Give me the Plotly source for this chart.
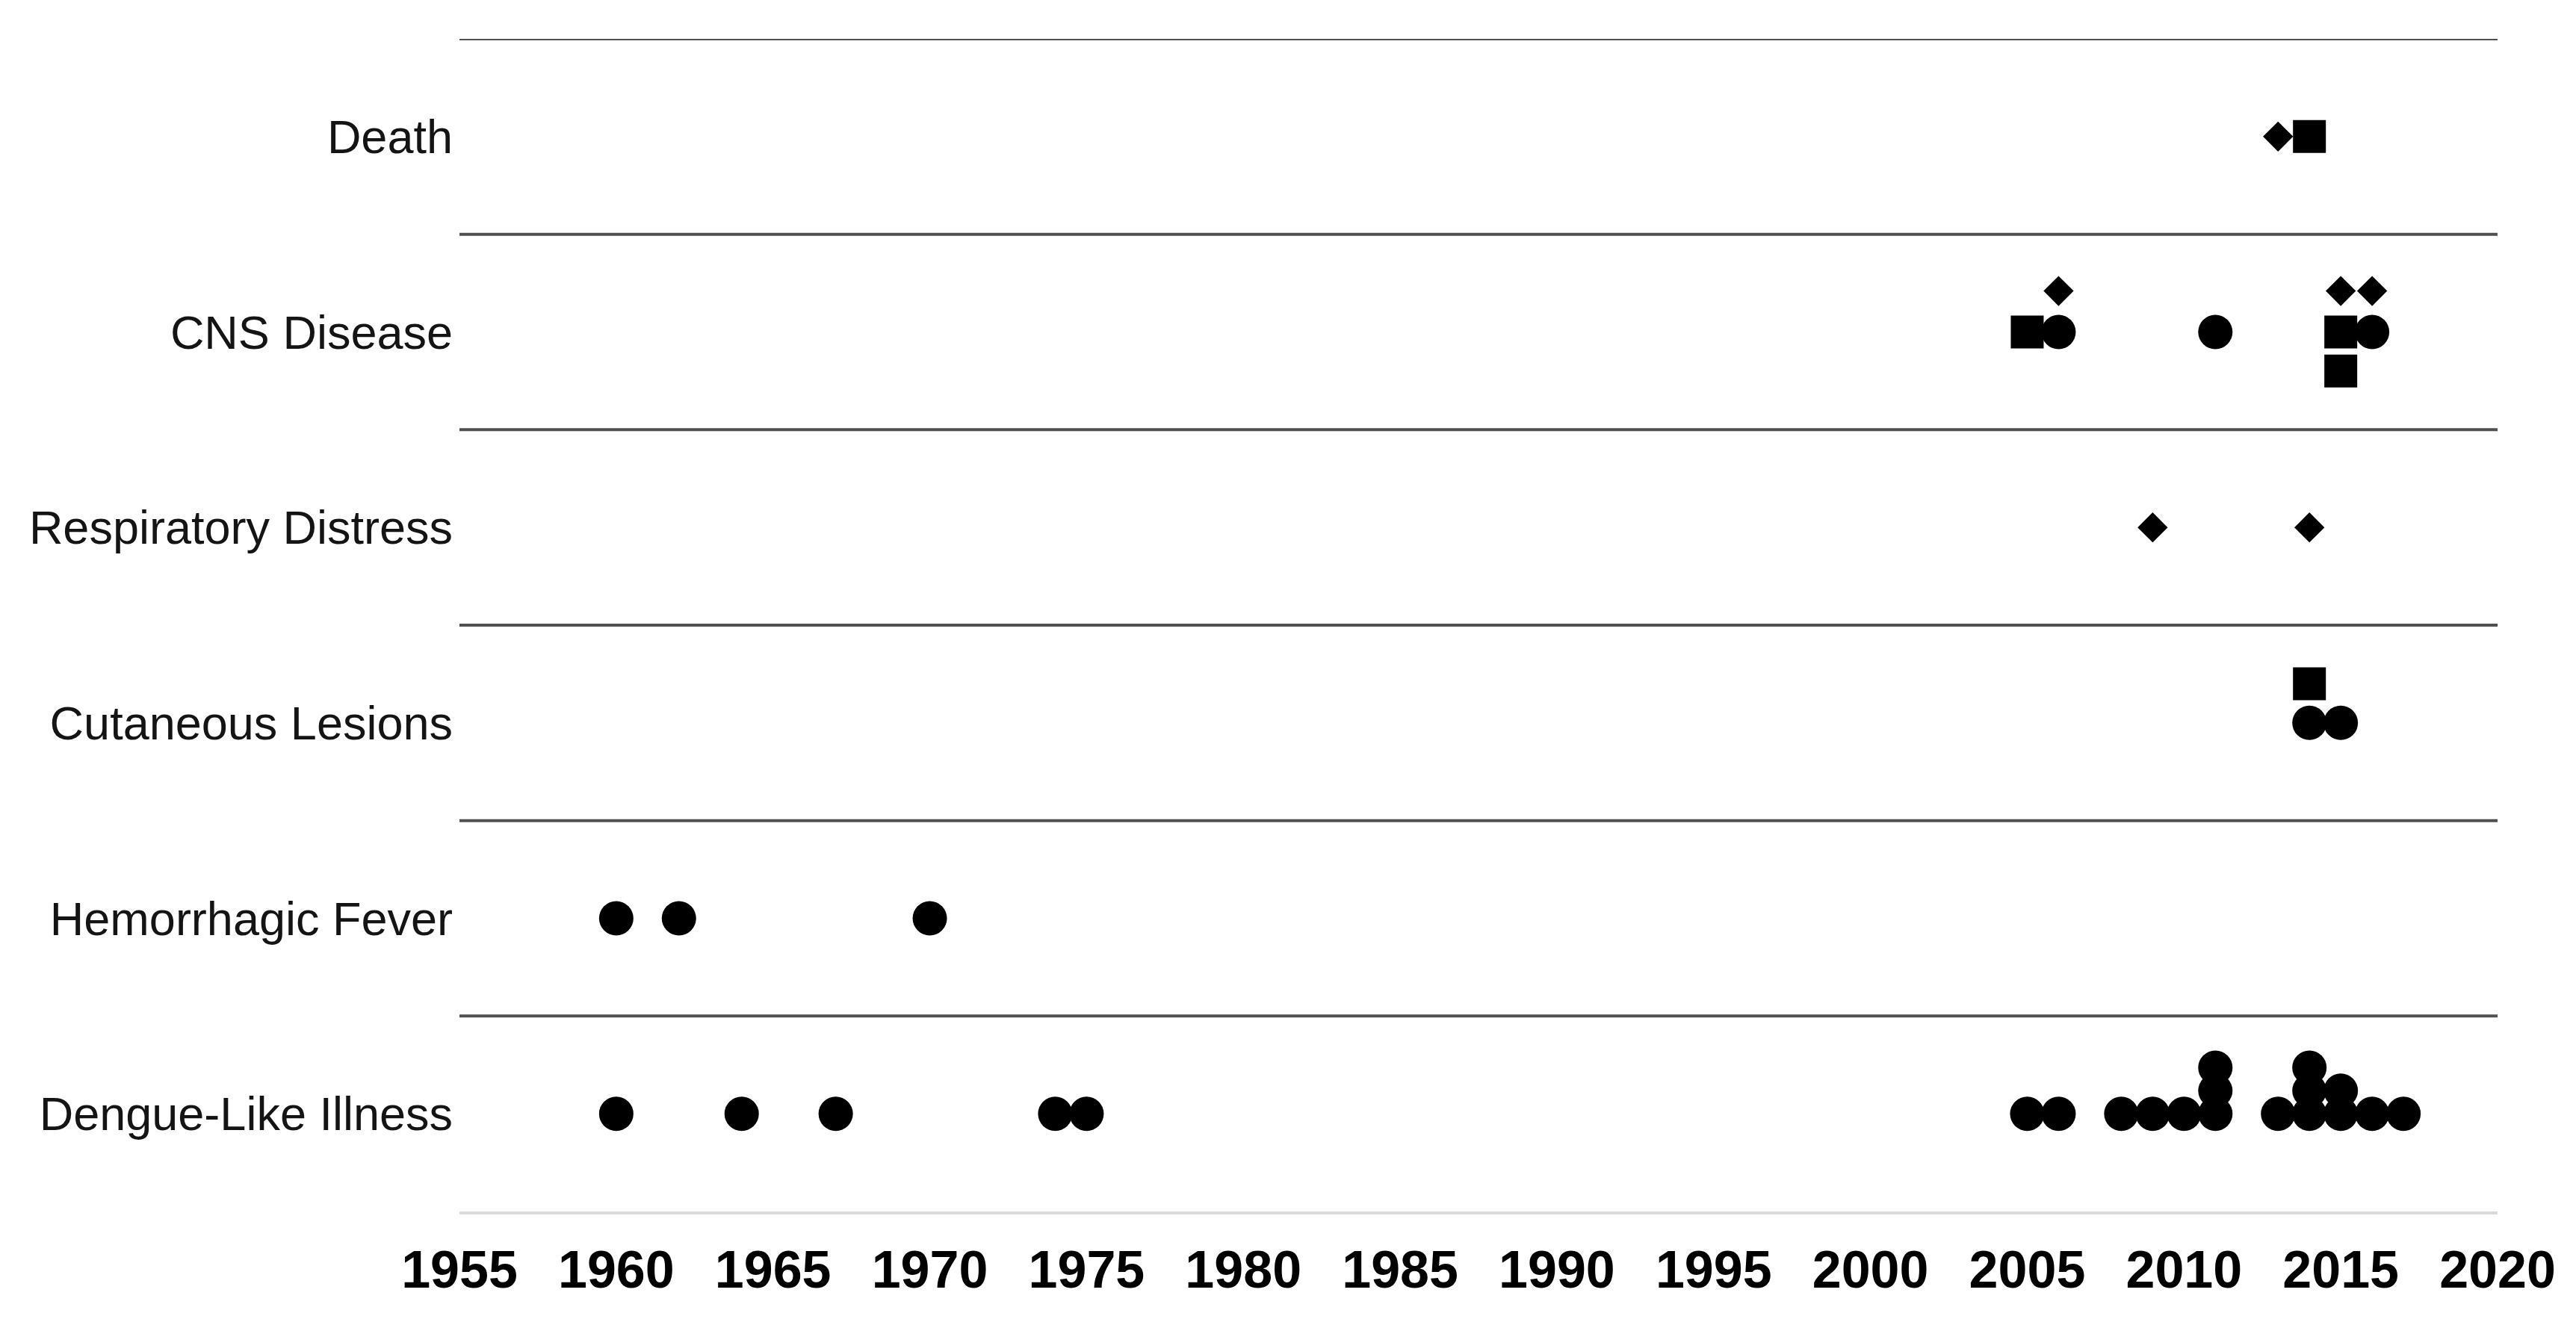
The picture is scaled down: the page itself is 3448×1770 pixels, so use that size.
import plotly.graph_objects as go

# Row categories (bottom to top)
categories = ["Dengue-Like Illness", "Hemorrhagic Fever", "Cutaneous Lesions",
              "Respiratory Distress", "CNS Disease", "Death"]

# Year tick labels
year_ticks = [1955, 1960, 1965, 1970, 1975, 1980, 1985, 1990, 1995,
              2000, 2005, 2010, 2015, 2020]

# Circle markers: year, category, stack offset within the row
circle_years = [1960, 1964, 1967, 1974, 1975, 2005, 2006, 2008, 2009, 2010,
                2011, 2011, 2011, 2013, 2014, 2014, 2014, 2015, 2015, 2016, 2017,
                1960, 1962, 1970,
                2014, 2015,
                2006, 2011, 2016]
circle_cats = (["Dengue-Like Illness"] * 21 + ["Hemorrhagic Fever"] * 3 +
               ["Cutaneous Lesions"] * 2 + ["CNS Disease"] * 3)
circle_stack = [0, 0, 0, 0, 0, 0, 0, 0, 0, 0,
                0, 0.118, 0.236, 0, 0, 0.118, 0.236, 0, 0.118, 0, 0,
                0, 0, 0,
                0, 0,
                0, 0, 0]

# Square markers
square_years = [2014, 2005, 2015, 2015, 2014]
square_cats = ["Death", "CNS Disease", "CNS Disease", "CNS Disease", "Cutaneous Lesions"]
square_stack = [0, 0, 0, -0.2, 0.2]

# Diamond markers
diamond_years = [2013, 2006, 2015, 2016, 2009, 2014]
diamond_cats = ["Death", "CNS Disease", "CNS Disease", "CNS Disease",
                "Respiratory Distress", "Respiratory Distress"]
diamond_stack = [0, 0.21, 0.21, 0.21, 0, 0]


def ypos(cats, stack):
    return [categories.index(c) + s for c, s in zip(cats, stack)]


fig = go.Figure()
fig.add_trace(go.Scatter(x=circle_years, y=ypos(circle_cats, circle_stack),
                         mode="markers", name="circle",
                         marker=dict(symbol="circle", size=46, color="black",
                                     line=dict(width=0))))
fig.add_trace(go.Scatter(x=square_years, y=ypos(square_cats, square_stack),
                         mode="markers", name="square",
                         marker=dict(symbol="square", size=44, color="black",
                                     line=dict(width=0))))
fig.add_trace(go.Scatter(x=diamond_years, y=ypos(diamond_cats, diamond_stack),
                         mode="markers", name="diamond",
                         marker=dict(symbol="diamond", size=31, color="black",
                                     line=dict(width=0))))

# Row separator lines
shapes = []
n = len(categories)
for k in range(1, n + 1):
    shapes.append(dict(type="line", xref="paper", x0=0, x1=1, yref="y",
                       y0=k - 0.5, y1=k - 0.5,
                       line=dict(color="#505050", width=4), layer="below"))

fig.update_layout(
    width=3432, height=1754,
    margin=dict(l=607, r=97, t=44, b=140),
    paper_bgcolor="white", plot_bgcolor="white",
    showlegend=False,
    shapes=shapes,
    xaxis=dict(range=[1955, 2020], tickvals=year_ticks,
               ticktext=[str(t) for t in year_ticks],
               showgrid=False, zeroline=False,
               showline=True, linecolor="#d9d9d9", linewidth=4,
               ticks="", ticklabelstandoff=14,
               tickfont=dict(family="Liberation Sans, Arial", size=70,
                             color="black", weight="bold")),
    yaxis=dict(range=[-0.5, n - 0.5], tickvals=list(range(n)),
               ticktext=categories, showgrid=False, zeroline=False,
               showline=False, ticks="", ticklabelstandoff=8,
               tickfont=dict(family="Liberation Sans, Arial", size=63,
                             color="#141414")),
)

fig.write_html("out.html")
